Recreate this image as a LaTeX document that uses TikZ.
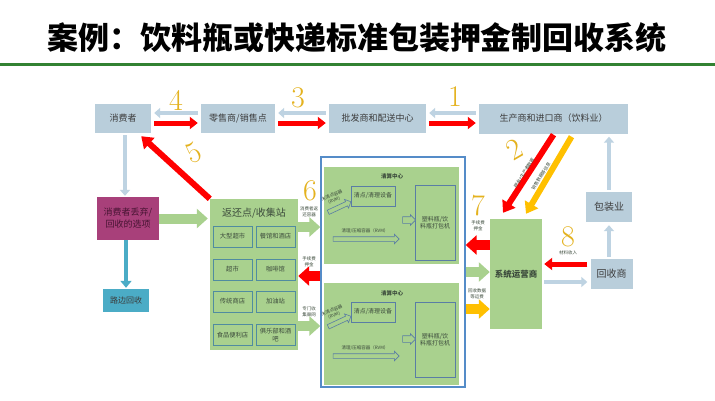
\documentclass[tikz,border=0pt]{standalone}
\usepackage{fontspec}
\newfontfamily\cjk{Noto Sans CJK SC}
\usetikzlibrary{arrows.meta,shapes.arrows,calc}
\definecolor{lbox}{RGB}{185,206,219}
\definecolor{lbarr}{RGB}{190,211,226}
\definecolor{gfill}{RGB}{169,209,142}
\definecolor{mag}{RGB}{168,64,122}
\definecolor{tealc}{RGB}{75,172,198}
\definecolor{numc}{RGB}{228,178,30}
\definecolor{yel}{RGB}{255,192,0}
\definecolor{frameb}{RGB}{85,140,200}
\definecolor{ibord}{RGB}{80,140,160}
\definecolor{sbord}{RGB}{90,125,165}
\definecolor{tgreen}{RGB}{50,130,50}
\definecolor{boxtxt}{RGB}{60,60,60}
\definecolor{gtxt}{RGB}{60,75,60}
\definecolor{redc}{RGB}{255,0,0}
\tikzset{
  box/.style={fill=lbox, text=boxtxt, inner sep=0pt, align=center, font=\cjk\fontsize{9}{11}\selectfont},
  gbox/.style={fill=gfill, text=gtxt, inner sep=0pt, align=center},
  ibox/.style={draw=ibord, line width=0.9pt, text=gtxt, inner sep=0pt, align=center,
    font=\cjk\fontsize{6.3}{7.5}\selectfont, minimum width=39pt, minimum height=21pt},
  sbox/.style={draw=sbord, line width=0.8pt, text=gtxt, inner sep=0pt, align=center,
    font=\cjk\fontsize{6}{7.5}\selectfont},
  num/.style={text=numc, font=\rmfamily\fontsize{30}{30}\selectfont, inner sep=0pt},
  lab/.style={text=gtxt, font=\cjk\fontsize{4.5}{5.5}\selectfont, align=center, inner sep=0pt},
  sctitle/.style={text=gtxt, font=\cjk\bfseries\fontsize{5.5}{6.5}\selectfont, inner sep=0pt},
  harrow/.style={shape=single arrow, draw=sbord, fill=gfill, line width=0.6pt, inner sep=2pt,
    single arrow head extend=2.5pt},
  thinb/.style={line width=4pt, -{Triangle[length=6pt,width=10pt]}, lbarr},
  thinr/.style={line width=5pt, -{Triangle[length=8pt,width=12pt]}, redc},
  fatarr/.style={line width=10pt, -{Triangle[length=11pt,width=19pt]}},
  diagarr/.style={line width=6pt, -{Triangle[length=11pt,width=15pt]}},
}
\begin{document}
\begin{tikzpicture}[x=1pt,y=-1pt]
\useasboundingbox[fill=white] (0,0) rectangle (715,400);
% title
\node[font=\cjk\bfseries\fontsize{31}{31}\selectfont, inner sep=0pt] (title) at (357,38) {案例：饮料瓶或快递标准包装押金制回收系统};
\draw[line width=3pt, tgreen] (0,64) -- (715,64);

% top row
\node[box, minimum width=56pt, minimum height=29pt] (cons) at (123,118.5) {消费者};
\node[box, minimum width=74pt, minimum height=29pt] (retail) at (238,118.5) {零售商/销售点};
\node[box, minimum width=97pt, minimum height=29pt] (whole) at (377.5,118.5) {批发商和配送中心};
\node[box, minimum width=149pt, minimum height=30pt] (prod) at (553.5,118.5) {生产商和进口商（饮料业）};
\node[box, font=\cjk\fontsize{10}{12}\selectfont, minimum width=46pt, minimum height=30pt] (pack) at (609,207) {包装业};
\node[box, font=\cjk\fontsize{10}{12}\selectfont, minimum width=42pt, minimum height=30pt] (recyc) at (611.5,274) {回收商};

% left column
\node[fill=mag, text={rgb,255:red,70;green,20;blue,50}, inner sep=0pt, align=center, font=\cjk\fontsize{9}{12}\selectfont,
  minimum width=62pt, minimum height=43pt] (magenta) at (128,218.5) {消费者丢弃/\\回收的选项};
\node[fill=tealc, text=boxtxt, inner sep=0pt, font=\cjk\fontsize{8}{10}\selectfont,
  minimum width=46pt, minimum height=23pt] (curb) at (126,300.5) {路边回收};

% return station
\node[gbox, minimum width=88pt, minimum height=151pt] (station) at (254,274.5) {};
\node[text=gtxt, font=\cjk\fontsize{10}{12}\selectfont, inner sep=0pt] (sttitle) at (254,213) {返还点/收集站};
\node[ibox] (ib1) at (232.5,236.5) {大型超市};
\node[ibox] (ib2) at (275.5,236.5) {餐馆和酒店};
\node[ibox] (ib3) at (232.5,269.5) {超市};
\node[ibox] (ib4) at (275.5,269.5) {咖啡馆};
\node[ibox] (ib5) at (232.5,301.5) {传统商店};
\node[ibox] (ib6) at (275.5,301.5) {加油站};
\node[ibox] (ib7) at (232.5,335) {食品便利店};
\node[ibox] (ib8) at (275.5,335) {俱乐部和酒\\吧};

% sorting frame
\node[draw=frameb, line width=1.3pt, fill=white, minimum width=144pt, minimum height=230pt, inner sep=0pt] (frame) at (393,272) {};
\node[gbox, minimum width=135pt, minimum height=97pt] (sc1) at (391.5,215.5) {};
\node[gbox, minimum width=135pt, minimum height=102pt] (sc2) at (391.5,334) {};
\node[sctitle] (sc1t) at (392,176) {清算中心};
\node[sctitle] (sc2t) at (392,293) {清算中心};
\node[sbox, minimum width=44pt, minimum height=20pt] (cl1) at (373,196) {清点/清理设备};
\node[sbox, minimum width=44pt, minimum height=20pt] (cl2) at (373,312) {清点/清理设备};
\node[sbox, minimum width=40pt, minimum height=75pt] (bal1) at (435,222.5) {塑料瓶/饮\\料瓶打包机};
\node[sbox, minimum width=40pt, minimum height=75pt] (bal2) at (435,339.5) {塑料瓶/饮\\料瓶打包机};
\node[harrow, minimum height=25pt, rotate=25] (ha1) at (338.5,207.5) {};
\node[harrow, minimum height=25pt, rotate=25] (ha2) at (338.5,322) {};
\node[harrow, minimum height=66pt] (hb1) at (365,239) {};
\node[harrow, minimum height=66pt] (hb2) at (365,356) {};
\node[harrow, minimum height=13pt, inner sep=3pt, single arrow head extend=2pt] (hc1) at (407.5,220) {};
\node[harrow, minimum height=13pt, inner sep=3pt, single arrow head extend=2pt] (hc2) at (407.5,339) {};
\node[lab, rotate=25] (la1) at (333,198) {未清点容器\\（RVM）};
\node[lab, rotate=25] (la2) at (333,313) {未清点容器\\（RVM）};
\node[lab] (lb1) at (365,231) {清理/压缩容器（RVM）};
\node[lab] (lb2) at (365,348) {清理/压缩容器（RVM）};

% system operator
\node[gbox, font=\cjk\bfseries\fontsize{8.5}{10}\selectfont, minimum width=52pt, minimum height=110pt] (sysop) at (516,274) {系统运营商};

% top row arrows
\draw[thinb, shorten <=3pt, shorten >=3pt] ([yshift=5.5pt]retail.west) -- ([yshift=5.5pt]cons.east);
\draw[thinr, shorten <=3pt, shorten >=3pt] ([yshift=-4.5pt]cons.east) -- ([yshift=-4.5pt]retail.west);
\draw[thinb, shorten <=3pt, shorten >=3pt] ([yshift=5.5pt]whole.west) -- ([yshift=5.5pt]retail.east);
\draw[thinr, shorten <=3pt, shorten >=3pt] ([yshift=-4.5pt]retail.east) -- ([yshift=-4.5pt]whole.west);
\draw[thinb, shorten <=3pt, shorten >=3pt] ([yshift=5.5pt]prod.west) -- ([yshift=5.5pt]whole.east);
\draw[thinr, shorten <=3pt, shorten >=3pt] ([yshift=-4.5pt]whole.east) -- ([yshift=-4.5pt]prod.west);

% diagonal arrows
\draw[diagarr, redc] (station.north west) -- ([xshift=-10pt,yshift=-3pt]cons.south east);
\draw[diagarr, redc] ([yshift=-1pt]prod.south) -- ([xshift=-13pt,yshift=6pt]sysop.north);
\draw[diagarr, yel] ([xshift=18pt,yshift=-3pt]prod.south) -- ([xshift=10pt,yshift=5pt]sysop.north);
\node[lab, rotate=58] (l2a) at (524,173) {押金+生产者数据};
\node[lab, rotate=58] (l2b) at (541,176) {销售数据等信息};

% left column arrows
\draw[thinb, shorten <=2pt, shorten >=1pt] ([xshift=2pt]cons.south) -- ([xshift=2pt]cons.south |- magenta.north);
\draw[line width=4.5pt, -{Triangle[length=7pt,width=11pt]}, tealc, shorten >=1pt] (curb.north |- magenta.south) -- (curb.north);
\draw[fatarr, gfill, shorten >=2pt] (magenta.east) -- (magenta.east -| station.west);

% station <-> frame
\draw[fatarr, gfill] (station.east |- 0,227) -- (frame.west |- 0,227);
\draw[fatarr, redc] (frame.west |- 0,276) -- (station.east |- 0,276);
\draw[fatarr, gfill] (station.east |- 0,326) -- (frame.west |- 0,326);
\node[lab] (l6) at (309,212) {消费者返\\还容器};
\node[lab] (l6r) at (309,262) {手续费\\押金};
\node[lab] (l6b) at (309,312) {专门收\\集渠网};

% frame <-> system operator
\draw[fatarr, redc] (sysop.west |- 0,245) -- (frame.east |- 0,245);
\draw[fatarr, gfill] (frame.east |- 0,272) -- (sysop.west |- 0,272);
\draw[fatarr, yel] (frame.east |- 0,309) -- (sysop.west |- 0,309);
\node[lab] (l7) at (478,226) {手续费\\押金};
\node[lab] (l7y) at (477,294) {回收数据\\等运费};

% recycler / packaging
\draw[thinr, shorten <=3pt, shorten >=2pt] (recyc.west |- 0,264) -- (sysop.east |- 0,264);
\draw[thinb, shorten <=2pt, shorten >=3pt] (sysop.east |- 0,282) -- (recyc.west |- 0,282);
\node[lab] (l8) at (568,253) {材料收入};
\draw[thinb, shorten <=2pt, shorten >=3pt] (pack.north) -- (pack.north |- prod.south);
\draw[thinb, shorten <=2pt, shorten >=3pt] (pack.south |- recyc.north) -- (pack.south);

% numbers
\node[num] (n4) at (176,100) {4};
\node[num] (n3) at (298,98) {3};
\node[num] (n1) at (455,97) {1};
\node[num, rotate=25] (n5) at (194,153) {5};
\node[num, rotate=30] (n2) at (514,149) {2};
\node[num] (n6) at (310,191) {6};
\node[num] (n7) at (478,206) {7};
\node[num] (n8) at (568,237) {8};
\end{tikzpicture}
\end{document}
